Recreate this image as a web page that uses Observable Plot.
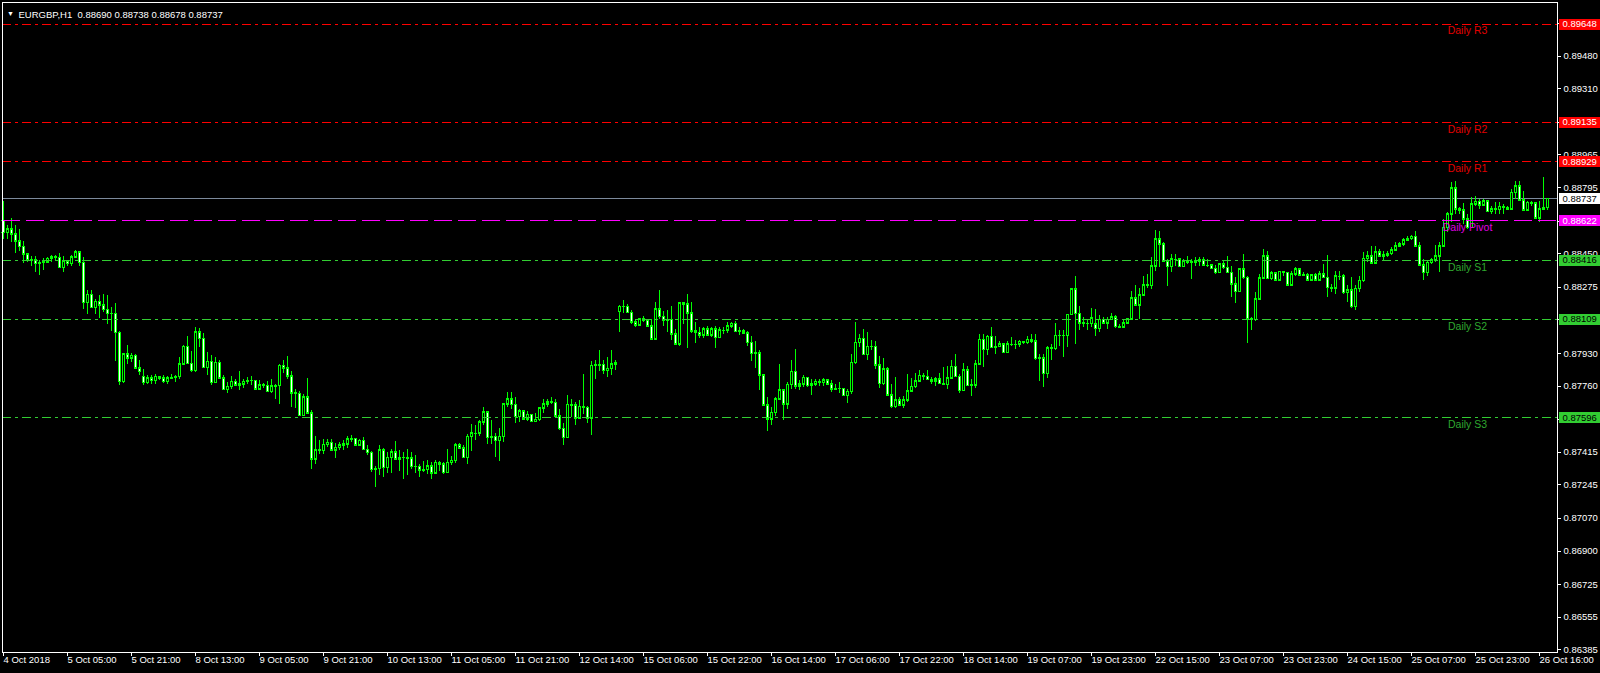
<!DOCTYPE html>
<html><head><meta charset="utf-8">
<script src="https://cdn.jsdelivr.net/npm/d3@7"></script>
<script src="https://cdn.jsdelivr.net/npm/@observablehq/plot@0.6"></script>
<style>
html,body{margin:0;padding:0;background:#000;overflow:hidden}
#chart svg{display:block}
#chart svg line, #chart svg rect, #chart svg path{shape-rendering:crispEdges}
</style></head><body><div id="chart"></div>
<script>
const symbolName = "EURGBP,H1";
const lastOHLC = [0.88690, 0.88738, 0.88678, 0.88737];
const currentPrice = 0.88737;

const closes = [
0.88560,0.88577,0.88551,0.88516,0.88487,0.88447,0.88417,0.88419,0.88398,0.88402,
0.88407,0.88423,0.88433,0.88429,0.88377,0.88412,0.88398,0.88433,0.88459,0.88403,
0.88195,0.88235,0.88169,0.88200,0.88181,0.88157,0.88138,0.88138,0.88039,0.87783,
0.87926,0.87905,0.87917,0.87853,0.87835,0.87778,0.87801,0.87787,0.87808,0.87802,
0.87783,0.87801,0.87804,0.87809,0.87874,0.87964,0.87877,0.87839,0.88042,0.88007,
0.87856,0.87886,0.87778,0.87881,0.87801,0.87740,0.87756,0.87782,0.87764,0.87769,
0.87782,0.87789,0.87787,0.87743,0.87764,0.87761,0.87731,0.87759,0.87761,0.87865,
0.87853,0.87811,0.87723,0.87721,0.87606,0.87703,0.87618,0.87379,0.87426,0.87424,
0.87455,0.87465,0.87426,0.87439,0.87452,0.87457,0.87483,0.87486,0.87452,0.87476,
0.87429,0.87413,0.87325,0.87328,0.87426,0.87335,0.87387,0.87415,0.87378,0.87387,
0.87387,0.87385,0.87340,0.87339,0.87321,0.87323,0.87342,0.87306,0.87359,0.87352,
0.87309,0.87359,0.87370,0.87451,0.87436,0.87387,0.87495,0.87514,0.87514,0.87571,
0.87623,0.87491,0.87497,0.87474,0.87497,0.87665,0.87691,0.87662,0.87601,0.87630,
0.87587,0.87610,0.87575,0.87585,0.87644,0.87665,0.87677,0.87672,0.87604,0.87538,
0.87491,0.87662,0.87660,0.87592,0.87651,0.87648,0.87592,0.87865,0.87868,0.87872,
0.87839,0.87851,0.87874,0.87879,0.88174,0.88174,0.88143,0.88094,0.88077,0.88108,
0.88103,0.88073,0.88004,0.88160,0.88122,0.88103,0.88105,0.88030,0.87978,0.88191,
0.88186,0.88139,0.88047,0.88039,0.88025,0.88056,0.88026,0.88056,0.88012,0.88052,
0.88052,0.88073,0.88085,0.88044,0.88045,0.88035,0.87986,0.87929,0.87931,0.87816,
0.87660,0.87587,0.87622,0.87691,0.87738,0.87665,0.87766,0.87836,0.87759,0.87770,
0.87804,0.87761,0.87770,0.87782,0.87778,0.87790,0.87770,0.87744,0.87747,0.87747,
0.87709,0.87730,0.87883,0.87987,0.88006,0.87923,0.87966,0.87966,0.87869,0.87773,
0.87848,0.87712,0.87653,0.87686,0.87660,0.87686,0.87733,0.87756,0.87784,0.87813,
0.87810,0.87794,0.87784,0.87796,0.87773,0.87768,0.87801,0.87860,0.87810,0.87735,
0.87843,0.87761,0.87764,0.87874,0.88001,0.87949,0.88016,0.87961,0.87966,0.87978,
0.87935,0.87978,0.87978,0.87978,0.87990,0.87987,0.88001,0.87995,0.87903,0.87905,
0.87825,0.87957,0.87955,0.88022,0.88022,0.88023,0.88131,0.88265,0.88138,0.88088,
0.88086,0.88086,0.88114,0.88060,0.88105,0.88088,0.88105,0.88119,0.88070,0.88068,
0.88088,0.88108,0.88218,0.88181,0.88233,0.88287,0.88282,0.88386,0.88525,0.88499,
0.88412,0.88382,0.88421,0.88421,0.88382,0.88412,0.88407,0.88403,0.88412,0.88419,
0.88389,0.88389,0.88372,0.88351,0.88395,0.88377,0.88351,0.88290,0.88252,0.88369,
0.88325,0.88108,0.88105,0.88212,0.88322,0.88438,0.88320,0.88348,0.88311,0.88355,
0.88351,0.88285,0.88342,0.88369,0.88337,0.88339,0.88313,0.88337,0.88313,0.88342,
0.88325,0.88273,0.88270,0.88334,0.88334,0.88247,0.88261,0.88174,0.88268,0.88308,
0.88424,0.88438,0.88400,0.88459,0.88438,0.88442,0.88450,0.88469,0.88490,0.88499,
0.88521,0.88528,0.88539,0.88490,0.88391,0.88351,0.88403,0.88415,0.88438,0.88490,
0.88586,0.88655,0.88791,0.88681,0.88676,0.88629,0.88586,0.88707,0.88720,0.88704,
0.88725,0.88669,0.88681,0.88680,0.88694,0.88690,0.88683,0.88768,0.88803,0.88730,
0.88676,0.88716,0.88713,0.88634,0.88681,0.88690,0.88737];

const highs = [
0.88720,0.88595,0.88636,0.88595,0.88577,0.88516,0.88447,0.88438,0.88438,0.88416,
0.88426,0.88433,0.88443,0.88443,0.88449,0.88436,0.88416,0.88443,0.88469,0.88464,
0.88433,0.88256,0.88261,0.88212,0.88230,0.88235,0.88230,0.88169,0.88190,0.88047,
0.87929,0.87974,0.87929,0.87926,0.87891,0.87848,0.87816,0.87813,0.87818,0.87809,
0.87813,0.87808,0.87818,0.87815,0.87908,0.87974,0.88016,0.87938,0.88068,0.88058,
0.88035,0.87933,0.87917,0.87908,0.87891,0.87813,0.87778,0.87808,0.87795,0.87834,
0.87795,0.87804,0.87809,0.87790,0.87787,0.87776,0.87782,0.87795,0.87769,0.87870,
0.87896,0.87912,0.87834,0.87740,0.87731,0.87717,0.87797,0.87634,0.87495,0.87474,
0.87483,0.87483,0.87481,0.87460,0.87465,0.87474,0.87495,0.87500,0.87488,0.87483,
0.87491,0.87448,0.87419,0.87339,0.87448,0.87436,0.87413,0.87431,0.87469,0.87422,
0.87413,0.87431,0.87412,0.87399,0.87349,0.87365,0.87373,0.87361,0.87370,0.87365,
0.87361,0.87431,0.87391,0.87460,0.87460,0.87448,0.87505,0.87561,0.87552,0.87578,
0.87646,0.87630,0.87578,0.87512,0.87540,0.87669,0.87729,0.87724,0.87703,0.87636,
0.87630,0.87625,0.87604,0.87617,0.87648,0.87691,0.87691,0.87703,0.87691,0.87639,
0.87566,0.87709,0.87691,0.87674,0.87686,0.87818,0.87656,0.87886,0.87896,0.87948,
0.87896,0.87908,0.87943,0.87891,0.88181,0.88204,0.88186,0.88155,0.88103,0.88113,
0.88125,0.88103,0.88108,0.88198,0.88256,0.88151,0.88155,0.88177,0.88056,0.88195,
0.88198,0.88235,0.88198,0.88091,0.88068,0.88068,0.88072,0.88065,0.88073,0.88065,
0.88065,0.88091,0.88094,0.88099,0.88068,0.88056,0.88044,0.88021,0.87990,0.87943,
0.87821,0.87700,0.87648,0.87700,0.87874,0.87744,0.87778,0.87891,0.87949,0.87787,
0.87813,0.87804,0.87796,0.87792,0.87796,0.87801,0.87792,0.87787,0.87770,0.87778,
0.87749,0.87744,0.87923,0.88089,0.88027,0.88053,0.88037,0.87999,0.87990,0.87912,
0.87905,0.87857,0.87766,0.87803,0.87700,0.87704,0.87818,0.87801,0.87825,0.87839,
0.87827,0.87839,0.87804,0.87804,0.87827,0.87857,0.87862,0.87896,0.87923,0.87822,
0.87879,0.87860,0.87796,0.87895,0.88030,0.88030,0.88022,0.88065,0.88016,0.87995,
0.87982,0.87995,0.88013,0.87999,0.87999,0.87995,0.88016,0.88027,0.88027,0.87926,
0.87926,0.87964,0.87975,0.88086,0.88048,0.88048,0.88134,0.88270,0.88329,0.88173,
0.88117,0.88108,0.88164,0.88157,0.88126,0.88117,0.88117,0.88138,0.88126,0.88082,
0.88100,0.88114,0.88251,0.88282,0.88270,0.88329,0.88343,0.88430,0.88569,0.88568,
0.88507,0.88421,0.88447,0.88447,0.88424,0.88421,0.88438,0.88421,0.88429,0.88429,
0.88429,0.88421,0.88395,0.88389,0.88400,0.88412,0.88438,0.88386,0.88325,0.88372,
0.88447,0.88334,0.88117,0.88247,0.88342,0.88473,0.88464,0.88355,0.88334,0.88360,
0.88360,0.88351,0.88360,0.88377,0.88369,0.88351,0.88348,0.88342,0.88348,0.88355,
0.88395,0.88441,0.88290,0.88355,0.88355,0.88342,0.88285,0.88325,0.88282,0.88334,
0.88459,0.88464,0.88490,0.88487,0.88473,0.88464,0.88461,0.88481,0.88507,0.88511,
0.88528,0.88542,0.88546,0.88567,0.88507,0.88421,0.88412,0.88424,0.88494,0.88507,
0.88629,0.88665,0.88820,0.88829,0.88690,0.88711,0.88655,0.88742,0.88751,0.88734,
0.88734,0.88728,0.88699,0.88716,0.88716,0.88708,0.88699,0.88786,0.88829,0.88829,
0.88777,0.88725,0.88725,0.88704,0.88725,0.88846,0.88738];

const lows = [
0.88525,0.88522,0.88508,0.88450,0.88464,0.88398,0.88403,0.88386,0.88351,0.88339,
0.88365,0.88398,0.88402,0.88412,0.88374,0.88350,0.88381,0.88386,0.88426,0.88386,
0.88160,0.88134,0.88169,0.88134,0.88112,0.88143,0.88082,0.88044,0.87888,0.87761,
0.87776,0.87874,0.87882,0.87848,0.87813,0.87761,0.87766,0.87766,0.87769,0.87787,
0.87775,0.87766,0.87792,0.87778,0.87792,0.87865,0.87870,0.87830,0.87830,0.87960,
0.87851,0.87813,0.87761,0.87773,0.87796,0.87735,0.87721,0.87743,0.87759,0.87735,
0.87749,0.87766,0.87761,0.87738,0.87738,0.87749,0.87730,0.87723,0.87691,0.87665,
0.87825,0.87794,0.87648,0.87644,0.87599,0.87599,0.87613,0.87326,0.87353,0.87405,
0.87405,0.87439,0.87422,0.87384,0.87426,0.87426,0.87436,0.87465,0.87443,0.87443,
0.87426,0.87396,0.87309,0.87231,0.87292,0.87283,0.87304,0.87304,0.87375,0.87314,
0.87271,0.87292,0.87326,0.87304,0.87283,0.87309,0.87300,0.87271,0.87314,0.87314,
0.87300,0.87306,0.87345,0.87356,0.87431,0.87384,0.87349,0.87417,0.87474,0.87497,
0.87557,0.87453,0.87453,0.87387,0.87365,0.87465,0.87648,0.87639,0.87566,0.87570,
0.87583,0.87575,0.87571,0.87575,0.87575,0.87617,0.87648,0.87662,0.87603,0.87526,
0.87448,0.87488,0.87596,0.87552,0.87589,0.87613,0.87564,0.87500,0.87792,0.87835,
0.87818,0.87804,0.87813,0.87839,0.88039,0.88139,0.88138,0.88082,0.88065,0.88070,
0.88094,0.88068,0.88000,0.88000,0.88108,0.88073,0.88042,0.88000,0.87974,0.87969,
0.88082,0.87955,0.88035,0.87981,0.88007,0.88007,0.88016,0.88012,0.87955,0.88016,
0.88030,0.88033,0.88059,0.88042,0.88026,0.88030,0.87969,0.87886,0.87851,0.87735,
0.87656,0.87521,0.87552,0.87602,0.87688,0.87579,0.87638,0.87744,0.87744,0.87738,
0.87752,0.87752,0.87709,0.87759,0.87759,0.87759,0.87766,0.87726,0.87740,0.87721,
0.87707,0.87669,0.87714,0.87874,0.87961,0.87917,0.87896,0.87943,0.87846,0.87747,
0.87761,0.87709,0.87645,0.87645,0.87657,0.87643,0.87674,0.87726,0.87747,0.87778,
0.87787,0.87787,0.87766,0.87756,0.87770,0.87761,0.87744,0.87796,0.87804,0.87721,
0.87731,0.87756,0.87705,0.87749,0.87865,0.87857,0.87917,0.87957,0.87923,0.87961,
0.87931,0.87961,0.87964,0.87952,0.87961,0.87975,0.87975,0.87982,0.87896,0.87782,
0.87752,0.87799,0.87891,0.87943,0.87966,0.87909,0.87961,0.88126,0.87978,0.88048,
0.88065,0.88051,0.88065,0.88016,0.88042,0.88079,0.88056,0.88100,0.88062,0.88060,
0.88068,0.88082,0.88105,0.88178,0.88108,0.88225,0.88270,0.88265,0.88357,0.88377,
0.88403,0.88278,0.88351,0.88386,0.88377,0.88377,0.88395,0.88316,0.88386,0.88386,
0.88382,0.88377,0.88369,0.88342,0.88348,0.88369,0.88348,0.88221,0.88191,0.88247,
0.88316,0.87983,0.88052,0.88096,0.88209,0.88316,0.88316,0.88313,0.88306,0.88308,
0.88334,0.88282,0.88330,0.88334,0.88334,0.88330,0.88308,0.88308,0.88308,0.88304,
0.88322,0.88221,0.88247,0.88238,0.88308,0.88238,0.88195,0.88164,0.88155,0.88247,
0.88299,0.88403,0.88395,0.88396,0.88435,0.88412,0.88429,0.88442,0.88464,0.88481,
0.88490,0.88516,0.88521,0.88487,0.88386,0.88308,0.88334,0.88395,0.88403,0.88351,
0.88481,0.88560,0.88612,0.88655,0.88655,0.88603,0.88577,0.88607,0.88694,0.88681,
0.88704,0.88664,0.88655,0.88655,0.88655,0.88655,0.88673,0.88676,0.88734,0.88728,
0.88673,0.88673,0.88694,0.88629,0.88612,0.88673,0.88678];

// opens differing from the previous close (session gaps)
const gapOpens = {0: 0.88621, 35: 0.87808, 154: 0.88148, 273: 0.88082};

const xTickLabels = ["4 Oct 2018","5 Oct 05:00","5 Oct 21:00","8 Oct 13:00","9 Oct 05:00","9 Oct 21:00",
"10 Oct 13:00","11 Oct 05:00","11 Oct 21:00","12 Oct 14:00","15 Oct 06:00","15 Oct 22:00","16 Oct 14:00",
"17 Oct 06:00","17 Oct 22:00","18 Oct 14:00","19 Oct 07:00","19 Oct 23:00","22 Oct 15:00","23 Oct 07:00",
"23 Oct 23:00","24 Oct 15:00","25 Oct 07:00","25 Oct 23:00","26 Oct 16:00"];
const xTickEvery = 16;

const yTicks = [0.86385,0.86555,0.86725,0.86900,0.87070,0.87245,0.87415,0.87585,0.87760,0.87930,
0.88105,0.88275,0.88450,0.88620,0.88795,0.88965,0.89135,0.89310,0.89480,0.89650];

const levelNames = ["Daily R3","Daily R2","Daily R1","Daily Pivot","Daily S1","Daily S2","Daily S3"];
const levelValues = [0.89648,0.89135,0.88929,0.88622,0.88416,0.88109,0.87596];

// ---- build ----
const bars = closes.map((c, i) => {
  const o = gapOpens[i] !== undefined ? gapOpens[i] : (i > 0 ? closes[i-1] : c);
  return {i, open: o, close: c, high: Math.max(highs[i], o, c), low: Math.min(lows[i], o, c)};
});
const xTickIdx = xTickLabels.map((_, k) => k * xTickEvery);

const RED = "#ff0000", GREEN = "#32cd32", MAG = "#ff00ff", LIME = "#00ff00";
const styleFor = (name) => {
  if (name.includes("R")) return {line: RED, label: "#e00000", box: RED, boxText: "#ffffff", dash: "9,4,3,4"};
  if (name.includes("S")) return {line: GREEN, label: "#2fa82f", box: GREEN, boxText: "#000000", dash: "9,4,3,4"};
  return {line: MAG, label: "#e000e0", box: MAG, boxText: "#ffffff", dash: "18,6"};
};
const levels = levelNames.map((name, k) => ({name, value: levelValues[k], ...styleFor(name)}));
const fmt5 = d3.format(".5f");

const marks = [];
// current price line
marks.push(Plot.ruleY([currentPrice], {stroke: "#7c8a9c"}));
// candles
marks.push(Plot.ruleX(bars, {x: "i", y1: "low", y2: "high", stroke: LIME}));
marks.push(Plot.rect(bars.filter(d => d.close >= d.open), {x1: d => d.i - 0.25, x2: d => d.i + 0.25, y1: "open", y2: "close", fill: "#000", stroke: LIME}));
marks.push(Plot.rect(bars.filter(d => d.close < d.open), {x1: d => d.i - 0.25, x2: d => d.i + 0.25, y1: "open", y2: "close", fill: "#fff", stroke: LIME}));
marks.push(Plot.ruleY(bars, {y: "close", x1: d => d.i - 0.375, x2: d => d.i + 0.375, stroke: LIME}));
marks.push(Plot.ruleY(bars, {y: "open", x1: d => d.i - 0.375, x2: d => d.i + 0.375, stroke: LIME}));
// levels
for (const l of levels) {
  marks.push(Plot.ruleY([l.value], {stroke: l.line, strokeDasharray: l.dash}));
  marks.push(Plot.text([l], {y: "value", text: "name", frameAnchor: "right", dx: -90, dy: 7, textAnchor: "middle", fill: l.label, fontSize: 10.5}));
}
// frame and axes
marks.push(Plot.frame({stroke: "#fff"}));
marks.push(Plot.axisX(xTickIdx, {anchor: "bottom", tickSize: 4, tickPadding: 0, tickFormat: d => xTickLabels[d / xTickEvery], textAnchor: "start", dx: 0, color: "#fff", fontSize: 9.5, label: null}));
marks.push(Plot.axisY(yTicks, {anchor: "right", tickSize: 3, tickPadding: 3, tickFormat: fmt5, color: "#fff", fontSize: 9.5, label: null}));
// price boxes on the right axis
for (const l of levels) {
  marks.push(Plot.ruleY([l.value], {stroke: l.box, strokeWidth: 11, insetLeft: 1557, insetRight: -43}));
  marks.push(Plot.text([l.value], {y: d => d, text: fmt5, frameAnchor: "right", dx: 5, textAnchor: "start", fill: l.boxText, fontSize: 9.5}));
}
marks.push(Plot.ruleY([currentPrice], {stroke: "#fff", strokeWidth: 11, insetLeft: 1557, insetRight: -43}));
marks.push(Plot.text([currentPrice], {y: d => d, text: fmt5, frameAnchor: "right", dx: 5, textAnchor: "start", fill: "#000", fontSize: 9.5}));
// title
marks.push(Plot.text(["▼"], {frameAnchor: "top-left", dx: 8, dy: 9, textAnchor: "middle", fill: "#fff", fontSize: 7}));
marks.push(Plot.text([symbolName], {frameAnchor: "top-left", dx: 16, dy: 9, textAnchor: "start", fill: "#fff", fontSize: 9.5}));
marks.push(Plot.text([lastOHLC.map(fmt5).join(" ")], {frameAnchor: "top-left", dx: 75, dy: 9, textAnchor: "start", fill: "#fff", fontSize: 9.5}));

const chart = Plot.plot({
  width: 1600, height: 673,
  marginLeft: 2, marginRight: 43, marginTop: 2, marginBottom: 21,
  style: {background: "#000", color: "#fff", fontFamily: "'Liberation Sans', Arial, sans-serif", overflow: "visible"},
  x: {type: "linear", domain: [0, 386], range: [3, 1547]},
  y: {type: "linear", domain: [0.86385, 0.89648], range: [649.3, 23.5]},
  marks
});
document.getElementById("chart").appendChild(chart);
</script>
</body></html>
